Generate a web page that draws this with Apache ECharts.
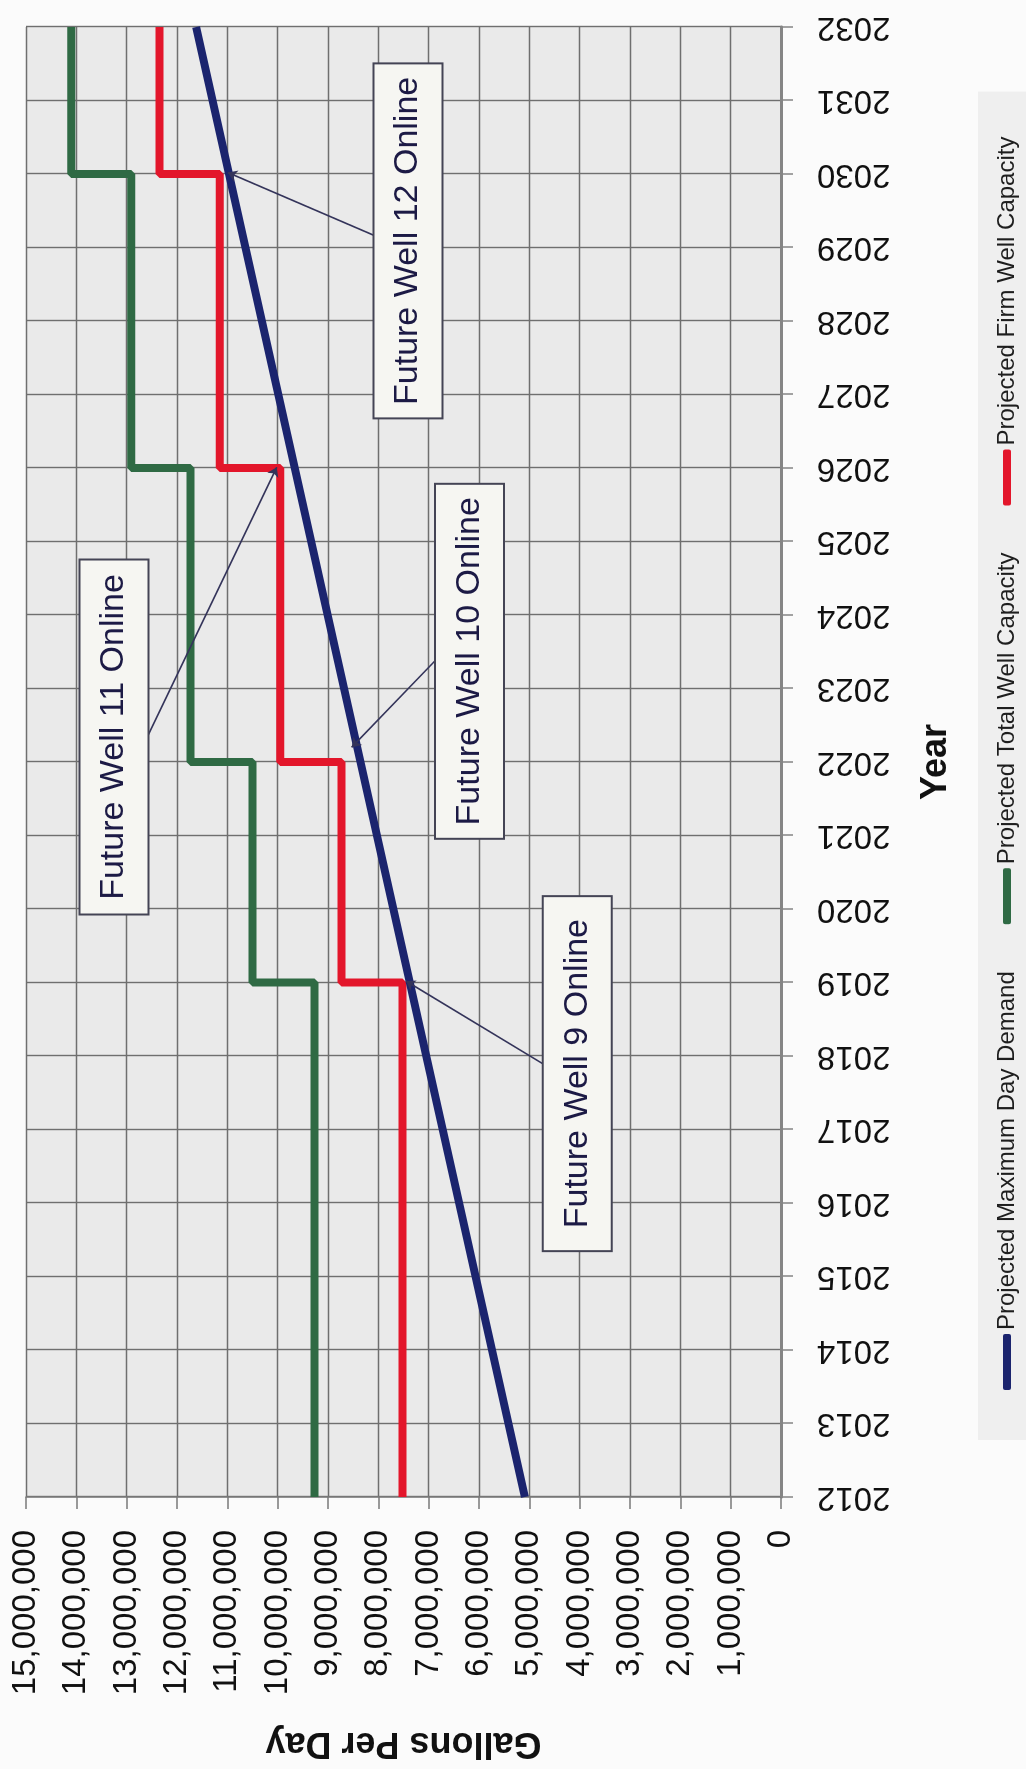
<!DOCTYPE html>
<html>
<head>
<meta charset="utf-8">
<title>Projected Demand and Well Capacity</title>
<script src="https://cdn.jsdelivr.net/npm/echarts/dist/echarts.min.js"></script>
<style>
html, body {
    margin: 0;
    padding: 0;
    width: 1026px;
    height: 1769px;
    overflow: hidden;
    background: #fbfbfb;
}
/* the chart is laid out landscape and turned a quarter left, like the scanned page */
#chart {
    position: absolute;
    left: 0;
    top: 0;
    width: 1769px;
    height: 1026px;
    transform-origin: 0 0;
    transform: translateY(1769px) rotate(-90deg);
}
</style>
</head>
<body>
<div id="chart"></div>
<script>
// years on the axis
const years = [2012, 2013, 2014, 2015, 2016, 2017, 2018, 2019, 2020, 2021, 2022,
               2023, 2024, 2025, 2026, 2027, 2028, 2029, 2030, 2031, 2032];

// gallons per day
const firmCapacity = [7520000, 7520000, 7520000, 7520000, 7520000, 7520000, 7520000,
                      8730000, 8730000, 8730000,
                      9950000, 9950000, 9950000, 9950000,
                      11150000, 11150000, 11150000, 11150000,
                      12350000, 12350000, 12350000];
const totalCapacity = [9270000, 9270000, 9270000, 9270000, 9270000, 9270000, 9270000,
                       10500000, 10500000, 10500000,
                       11730000, 11730000, 11730000, 11730000,
                       12910000, 12910000, 12910000, 12910000,
                       14100000, 14100000, 14100000];
// demand is a straight trend line, read at both ends
const demandYears = [2012, 2032];
const demand = [5090000, 11620000];

// callouts
const noteLabels = ['Future Well 9 Online', 'Future Well 10 Online', 'Future Well 11 Online', 'Future Well 12 Online'];
const noteBoxYear = [2017.76, 2023.37, 2022.34, 2029.09];
const noteBoxValue = [4050000, 6190000, 13250000, 7410000];
const noteTargetYear = [2019.02, 2022.2, 2026.01, 2030.02];
const noteTargetValue = [7450000, 8530000, 10020000, 10990000];
const noteAnchorYear = [2017.89, 2023.38, 2022.34, 2029.16];
const noteAnchorValue = [4720000, 6870000, 12590000, 8070000];

const FONT = 'Liberation Sans';

function commas(v) {
    return String(v).replace(/\B(?=(\d{3})+(?!\d))/g, ',');
}

let myChart = echarts.init(document.getElementById('chart'));

let leaders = noteLabels.map((t, i) => [
    { coord: [noteTargetYear[i], noteTargetValue[i]], symbol: 'arrow' },
    { coord: [noteAnchorYear[i], noteAnchorValue[i]], symbol: 'none' }
]);

myChart.setOption({
    animation: false,
    backgroundColor: '#fbfbfb',
    grid: {
        left: 269,
        right: 27,
        top: 26,
        bottom: 245,
        show: true,
        backgroundColor: '#eaeaea',
        borderWidth: 0
    },
    legend: {
        data: ['Projected Maximum Day Demand', 'Projected Total Well Capacity', 'Projected Firm Well Capacity'],
        left: 329,
        top: 978,
        padding: [17, 45, 40, 50],
        backgroundColor: '#efefef',
        icon: 'roundRect',
        itemWidth: 56,
        itemHeight: 8,
        itemGap: 47,
        textStyle: { fontFamily: FONT, fontSize: 24, color: '#1e1e1e', padding: [0, 0, 0, -1] }
    },
    xAxis: {
        type: 'value',
        min: 2012,
        max: 2032,
        interval: 1,
        name: 'Year',
        nameLocation: 'middle',
        nameGap: 137,
        nameTextStyle: { fontFamily: FONT, fontSize: 36, fontWeight: 'bold', color: '#111' },
        axisLine: { show: true, onZero: false, lineStyle: { color: '#858585', width: 3 } },
        axisTick: { show: true, length: 12, lineStyle: { color: '#858585', width: 1.5 } },
        axisLabel: {
            rotate: 90,
            margin: 36,
            fontFamily: FONT,
            fontSize: 33,
            color: '#111',
            formatter: v => String(v)
        },
        splitLine: { show: true, lineStyle: { color: '#6f6f6f', width: 1.4 } }
    },
    yAxis: {
        type: 'value',
        min: 0,
        max: 15000000,
        interval: 1000000,
        name: 'Gallons Per Day',
        nameLocation: 'middle',
        nameRotate: 90,
        nameGap: 228,
        nameTextStyle: { fontFamily: FONT, fontSize: 36, fontWeight: 'bold', color: '#111' },
        axisLine: { show: true, lineStyle: { color: '#7a7a7a', width: 1.5 } },
        axisTick: { show: true, length: 12, lineStyle: { color: '#7a7a7a', width: 1.5 } },
        axisLabel: {
            margin: 33,
            fontFamily: FONT,
            fontSize: 33,
            color: '#111',
            formatter: v => commas(v)
        },
        splitLine: { show: true, lineStyle: { color: '#6f6f6f', width: 1.4 } }
    },
    series: [
        {
            name: 'Projected Total Well Capacity',
            type: 'line',
            step: 'end',
            symbol: 'none',
            color: '#2f6a44',
            lineStyle: { width: 8, color: '#2f6a44' },
            data: years.map((y, i) => [y, totalCapacity[i]])
        },
        {
            name: 'Projected Firm Well Capacity',
            type: 'line',
            step: 'end',
            symbol: 'none',
            color: '#e3162b',
            lineStyle: { width: 8, color: '#e3162b' },
            data: years.map((y, i) => [y, firmCapacity[i]])
        },
        {
            name: 'Projected Maximum Day Demand',
            type: 'line',
            symbol: 'none',
            color: '#1b246e',
            lineStyle: { width: 8, color: '#1b246e' },
            data: demandYears.map((y, i) => [y, demand[i]])
        },
        {
            // callout boxes and their leader lines
            name: 'notes',
            type: 'scatter',
            z: 5,
            symbol: 'circle',
            symbolSize: 1,
            itemStyle: { color: 'rgba(0,0,0,0)', opacity: 1 },
            data: noteLabels.map((t, i) => [noteBoxYear[i], noteBoxValue[i]]),
            label: {
                show: true,
                position: 'inside',
                formatter: p => noteLabels[p.dataIndex],
                fontFamily: FONT,
                fontSize: 34,
                lineHeight: 41,
                color: '#1c1a45',
                width: 329,
                align: 'center',
                backgroundColor: '#f6f6f2',
                borderColor: '#444455',
                borderWidth: 2,
                padding: [13, 12]
            },
            markLine: {
                silent: true,
                symbolSize: 9,
                label: { show: false },
                lineStyle: { color: '#34345a', width: 1.6, type: 'solid' },
                data: leaders
            }
        }
    ]
});
</script>
</body>
</html>
